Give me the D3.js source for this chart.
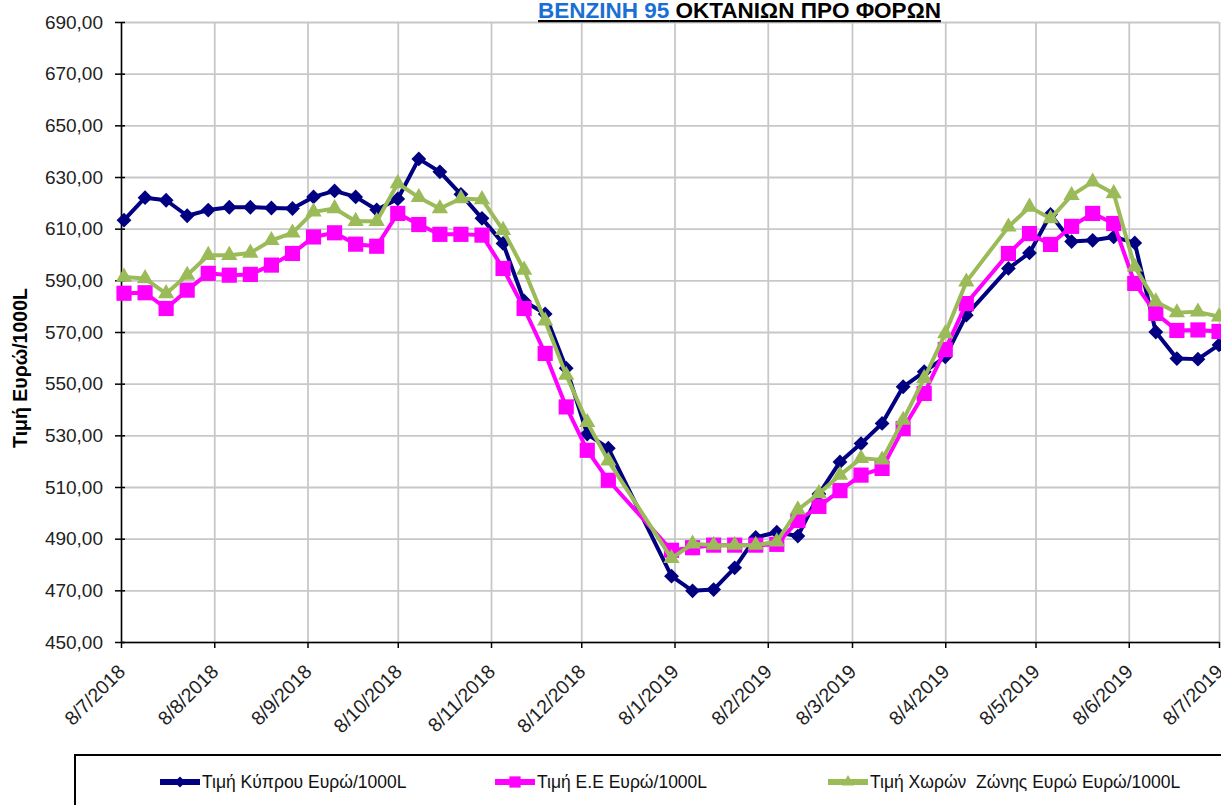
<!DOCTYPE html>
<meta charset="utf-8">
<style>
body { margin: 0; background: #fff; }
svg { display: block; font-family: Arial, "Liberation Sans", sans-serif; }
.grid line { stroke: #c8c8c8; stroke-width: 1.8; }
.grid path { display: none; }
.axis path, .axis line { stroke: #000; stroke-width: 1.5; }
.axis text { font-size: 19px; fill: #222; }
.series path.line { fill: none; stroke-width: 4; stroke-linejoin: round; }
</style>
<body></body>
<script src="https://cdnjs.cloudflare.com/ajax/libs/d3/7.8.5/d3.min.js"></script>
<script>
// weekly observations (d/m/yyyy)
var dates = [
  "9/7/2018","16/7/2018","23/7/2018","30/7/2018","6/8/2018","13/8/2018","20/8/2018","27/8/2018",
  "3/9/2018","10/9/2018","17/9/2018","24/9/2018","1/10/2018","8/10/2018","15/10/2018","22/10/2018",
  "29/10/2018","5/11/2018","12/11/2018","19/11/2018","26/11/2018","3/12/2018","10/12/2018","17/12/2018",
  "7/1/2019","14/1/2019","21/1/2019","28/1/2019","4/2/2019","11/2/2019","18/2/2019","25/2/2019",
  "4/3/2019","11/3/2019","18/3/2019","25/3/2019","1/4/2019","8/4/2019","15/4/2019","29/4/2019",
  "6/5/2019","13/5/2019","20/5/2019","27/5/2019","3/6/2019","10/6/2019","17/6/2019","24/6/2019",
  "1/7/2019","8/7/2019"
];
var cyprus = [
  613.3,622.0,621.0,615.0,617.2,618.3,618.3,618.0,617.8,622.3,624.6,622.3,617.3,621.5,637.0,632.0,
  623.3,614.0,604.3,582.0,577.0,556.0,530.5,525.0,475.5,469.8,470.3,478.7,490.5,492.5,491.0,507.3,
  519.7,526.8,534.6,548.8,554.6,560.4,576.5,594.6,600.6,615.5,605.0,605.5,606.8,604.5,570.0,559.7,
  559.5,565.0
];
var eu = [
  585.0,585.2,579.1,586.2,592.7,592.0,592.3,595.9,600.4,606.8,608.4,604.0,603.2,615.9,611.6,607.8,
  607.8,607.5,594.6,579.1,561.7,541.0,524.2,512.6,485.5,486.5,487.5,487.5,487.5,487.8,497.0,502.5,
  508.6,514.6,517.2,532.6,546.2,563.2,581.0,600.4,608.1,603.9,610.9,615.9,612.0,588.8,577.2,570.6,
  570.8,570.2
];
var eurozone = [
  591.3,590.7,584.9,592.0,599.7,599.7,600.6,605.5,608.4,616.5,617.8,612.9,612.9,627.5,622.1,617.8,
  621.7,621.3,609.4,594.0,574.3,553.3,535.0,520.1,482.4,488.0,487.5,487.5,487.5,488.8,501.2,507.5,
  514.6,521.1,520.5,535.9,552.1,569.4,589.4,610.7,618.4,613.9,622.9,628.1,623.6,595.2,581.7,577.5,
  577.8,575.9
];
var xTickLabels = ["8/7/2018","8/8/2018","8/9/2018","8/10/2018","8/11/2018","8/12/2018",
  "8/1/2019","8/2/2019","8/3/2019","8/4/2019","8/5/2019","8/6/2019","8/7/2019"];
var yTicks = [450,470,490,510,530,550,570,590,610,630,650,670,690];
var seriesNames = ["Τιμή Κύπρου Ευρώ/1000L","Τιμή Ε.Ε Ευρώ/1000L","Τιμή Χωρών  Ζώνης Ευρώ Ευρώ/1000L"];
var seriesColors = ["#000080","#ff00ff","#9bbb59"];
var titleBlue = "ΒΕΝΖΙΝΗ 95", titleBlack = " ΟΚΤΑΝΙΩΝ ΠΡΟ ΦΟΡΩΝ";
var yTitle = "Τιμή Ευρώ/1000L";

var W = 1221, H = 805;
var plotL = 121, plotR = 1219, plotT = 22, plotB = 642;

var parse = d3.timeParse("%d/%m/%Y");
var tickDates = xTickLabels.map(parse);
var xDates = dates.map(parse);

var x = d3.scaleTime()
    .domain([tickDates[0], tickDates[tickDates.length - 1]])
    .range([plotL, plotR]);
var y = d3.scaleLinear().domain([450, 690]).range([plotB, plotT]);

var svg = d3.select("body").append("svg")
    .attr("width", W)
    .attr("height", H);

// gridlines
svg.append("g").attr("class", "grid")
    .attr("transform", "translate(" + plotL + ",0)")
    .call(d3.axisLeft(y).tickValues(yTicks).tickSize(-(plotR - plotL)).tickFormat(""));
svg.append("g").attr("class", "grid")
    .attr("transform", "translate(0," + plotB + ")")
    .call(d3.axisBottom(x).tickValues(tickDates).tickSize(-(plotB - plotT)).tickFormat(""));

// y axis
var fmt = function(d) { return d3.format(".2f")(d).replace(".", ","); };
var yAxis = svg.append("g").attr("class", "axis")
    .attr("transform", "translate(" + plotL + ",0)")
    .call(d3.axisLeft(y).tickValues(yTicks).tickSizeInner(6).tickSizeOuter(0).tickPadding(12).tickFormat(fmt));
yAxis.selectAll(".tick line").attr("x2", -6).attr("x1", 4);

// x axis
var xAxis = svg.append("g").attr("class", "axis")
    .attr("transform", "translate(0," + plotB + ")")
    .call(d3.axisBottom(x).tickValues(tickDates).tickSizeInner(6).tickSizeOuter(0)
      .tickFormat(function(d, i) { return xTickLabels[i]; }));
xAxis.selectAll(".tick text")
    .style("font-size", "19.5px")
    .attr("text-anchor", "end")
    .attr("x", 0).attr("y", 0).attr("dy", "0.35em")
    .attr("transform", "translate(0,26) rotate(-45)");

// y axis title
svg.append("text")
    .attr("transform", "translate(27,368) rotate(-90)")
    .attr("text-anchor", "middle")
    .style("font-size", "19.5px")
    .style("font-weight", "bold")
    .text(yTitle);

// title
var t = svg.append("text")
    .attr("x", 538).attr("y", 18)
    .style("font-size", "22.5px")
    .style("font-weight", "bold")
    .style("text-decoration", "underline")
    .attr("xml:space", "preserve");
t.append("tspan").attr("fill", "#1a6fd4").text(titleBlue);
t.append("tspan").attr("fill", "#000").text(titleBlack);

// series
var allSeries = [cyprus, eu, eurozone];
var symbols = [
  { type: d3.symbolSquare, size: 110, rot: 45 },
  { type: d3.symbolSquare, size: 230, rot: 0 },
  { type: d3.symbolTriangle, size: 115, rot: 0 }
];
var line = d3.line()
    .x(function(d) { return x(d.date); })
    .y(function(d) { return y(d.value); });

allSeries.forEach(function(vals, k) {
  var data = vals.map(function(v, i) { return { date: xDates[i], value: v }; });
  var g = svg.append("g").attr("class", "series");
  g.append("path").attr("class", "line")
      .attr("d", line(data))
      .attr("stroke", seriesColors[k]);
  g.selectAll(".mk").data(data).enter().append("path")
      .attr("class", "mk")
      .attr("d", d3.symbol().type(symbols[k].type).size(symbols[k].size))
      .attr("fill", seriesColors[k])
      .attr("transform", function(d) {
        return "translate(" + x(d.date) + "," + y(d.value) + ") rotate(" + symbols[k].rot + ")";
      });
});

// legend
svg.append("rect")
    .attr("x", 75).attr("y", 755)
    .attr("width", 1200).attr("height", 100)
    .attr("fill", "#fff").attr("stroke", "#000").attr("stroke-width", 2);
var legX = [160, 495, 828];
seriesNames.forEach(function(name, k) {
  var lg = svg.append("g").attr("transform", "translate(" + legX[k] + ",782)");
  lg.append("line").attr("x1", 0).attr("x2", 40)
      .attr("stroke", seriesColors[k]).attr("stroke-width", 6);
  lg.append("path")
      .attr("d", d3.symbol().type(symbols[k].type).size(symbols[k].size * 0.55))
      .attr("fill", seriesColors[k])
      .attr("transform", "translate(20,0) rotate(" + symbols[k].rot + ")");
  lg.append("text")
      .attr("x", 42).attr("y", 6)
      .attr("xml:space", "preserve")
      .style("font-size", "17.5px")
      .style("fill", "#111")
      .text(name);
});
</script>
